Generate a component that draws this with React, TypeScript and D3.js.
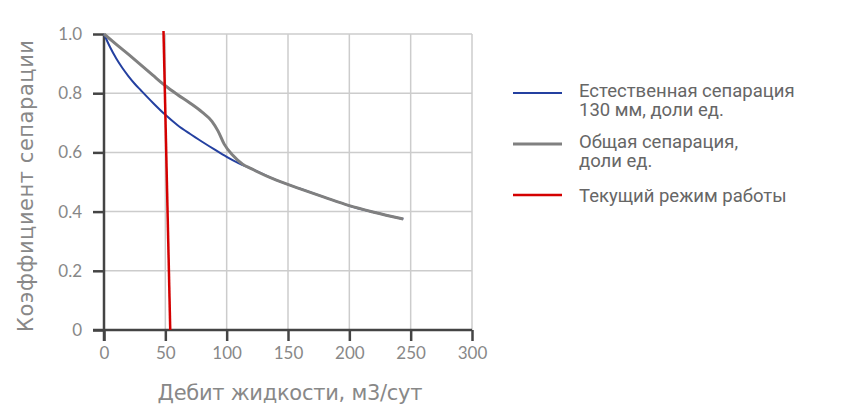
import React, { useEffect, useRef } from "react";
import * as d3 from "d3";

// Естественная сепарация 130 мм
const naturalX = [0, 5, 10, 15, 20, 25, 30, 40, 50, 60, 70, 80, 90, 100, 110, 120, 140, 160, 180, 200, 220, 244];
const naturalY = [1.0, 0.955, 0.917, 0.885, 0.857, 0.832, 0.81, 0.767, 0.727, 0.692, 0.663, 0.636, 0.61, 0.585, 0.563, 0.545, 0.507, 0.477, 0.448, 0.42, 0.398, 0.375];

// Общая сепарация
const totalX = [0, 10, 20, 30, 40, 50, 60, 70, 80, 88, 93, 98, 105, 113, 120, 140, 160, 180, 200, 220, 244];
const totalY = [1.0, 0.965, 0.931, 0.896, 0.86, 0.825, 0.795, 0.767, 0.736, 0.705, 0.672, 0.628, 0.59, 0.56, 0.545, 0.507, 0.477, 0.448, 0.42, 0.398, 0.375];

// Текущий режим работы
const modeX = [48.5, 54];
const modeY = [1.01, 0];

const xTicks = [0, 50, 100, 150, 200, 250, 300];
const yTicks = [0, 0.2, 0.4, 0.6, 0.8, 1.0];

const legendLabels = [
  ["Естественная сепарация", "130 мм, доли ед."],
  ["Общая сепарация,", "доли ед."],
  ["Текущий режим работы"],
];
const seriesColors = ["#2440a0", "#808080", "#d40000"];
const seriesWidths = [2, 3, 2.5];

type Pt = [number, number];
const zip = (xs: number[], ys: number[]): Pt[] => xs.map((x, i) => [x, ys[i]]);

export default function App() {
  const ref = useRef<SVGSVGElement | null>(null);
  const width = 841;
  const height = 413;
  const marginLeft = 104;
  const marginRight = 369;
  const marginTop = 34;
  const marginBottom = 83;

  useEffect(() => {
    const x = d3.scaleLinear().domain([0, 300]).range([marginLeft, width - marginRight]);
    const y = d3.scaleLinear().domain([0, 1]).range([height - marginBottom, marginTop]);

    const svg = d3.select(ref.current);
    svg.selectAll("*").remove();
    svg.attr("width", width).attr("height", height).attr("viewBox", [0, 0, width, height]);

    const axisFont = "Lato, 'Noto Sans', sans-serif";
    const titleFont = "'DejaVu Sans', sans-serif";

    // grid
    svg
      .append("g")
      .attr("stroke", "#cccccc")
      .attr("stroke-width", 1.5)
      .call((g) =>
        g
          .selectAll("line.v")
          .data(xTicks.slice(1))
          .join("line")
          .attr("x1", (d) => x(d))
          .attr("x2", (d) => x(d))
          .attr("y1", y(0))
          .attr("y2", y(1))
      )
      .call((g) =>
        g
          .selectAll("line.h")
          .data(yTicks.slice(1))
          .join("line")
          .attr("x1", x(0))
          .attr("x2", x(300))
          .attr("y1", (d) => y(d))
          .attr("y2", (d) => y(d))
      );

    // x axis
    const gx = svg
      .append("g")
      .attr("transform", `translate(0,${y(0)})`)
      .call(d3.axisBottom(x).tickValues(xTicks).tickSize(11).tickSizeOuter(0).tickPadding(6));
    gx.select(".domain").attr("stroke", "#444").attr("stroke-width", 2.5).attr("d", `M${x(0) - 11},0H${x(300)}`);
    gx.selectAll(".tick line").attr("stroke", "#444").attr("stroke-width", 2.5);
    gx.selectAll(".tick text")
      .attr("fill", "#888")
      .attr("font-size", 17)
      .attr("font-family", axisFont);

    // y axis
    const gy = svg
      .append("g")
      .attr("transform", `translate(${x(0)},0)`)
      .call(
        d3
          .axisLeft(y)
          .tickValues(yTicks)
          .tickSize(11)
          .tickSizeOuter(0)
          .tickPadding(11)
          .tickFormat((d) => (d === 0 ? "0" : d3.format(".1f")(d as number)))
      );
    gy.select(".domain").attr("stroke", "#444").attr("stroke-width", 2.5).attr("d", `M0,${y(1)}V${y(0) + 11}`);
    gy.selectAll(".tick line").attr("stroke", "#444").attr("stroke-width", 2.5);
    gy.selectAll(".tick text")
      .attr("fill", "#888")
      .attr("font-size", 17)
      .attr("font-family", axisFont);

    // axis titles
    svg
      .append("text")
      .attr("x", 290)
      .attr("y", 400)
      .attr("text-anchor", "middle")
      .attr("fill", "#888")
      .attr("font-size", 21)
      .attr("font-family", titleFont)
      .attr("textLength", 265)
      .attr("lengthAdjust", "spacing")
      .text("Дебит жидкости, м3/сут");

    svg
      .append("text")
      .attr("transform", `translate(33,186) rotate(-90)`)
      .attr("text-anchor", "middle")
      .attr("fill", "#888")
      .attr("font-size", 21)
      .attr("font-family", titleFont)
      .attr("textLength", 292)
      .attr("lengthAdjust", "spacing")
      .text("Коэффициент сепарации");

    // lines
    const line = d3
      .line<Pt>()
      .x((d) => x(d[0]))
      .y((d) => y(d[1]))
      .curve(d3.curveMonotoneX);

    const series: Pt[][] = [zip(naturalX, naturalY), zip(totalX, totalY)];
    [0, 1].forEach((i) => {
      svg
        .append("path")
        .attr("fill", "none")
        .attr("stroke", seriesColors[i])
        .attr("stroke-width", seriesWidths[i])
        .attr("stroke-linejoin", "round")
        .attr("d", line(series[i]));
    });

    svg
      .append("path")
      .attr("fill", "none")
      .attr("stroke", seriesColors[2])
      .attr("stroke-width", seriesWidths[2])
      .attr("d", d3.line<Pt>().x((d) => x(d[0])).y((d) => y(d[1]))(zip(modeX, modeY)));

    // legend
    const legendY = [93, 144, 195];
    const lg = svg.append("g").attr("font-family", "Roboto, sans-serif").attr("font-size", 18.5).attr("fill", "#666");
    legendLabels.forEach((lines, i) => {
      lg.append("line")
        .attr("x1", 513)
        .attr("x2", 562)
        .attr("y1", legendY[i])
        .attr("y2", legendY[i])
        .attr("stroke", seriesColors[i])
        .attr("stroke-width", seriesWidths[i]);
      const t = lg.append("text").attr("x", 579);
      const first = lines.length > 1 ? legendY[i] + 4 : legendY[i] + 6.5;
      lines.forEach((s, k) => {
        t.append("tspan")
          .attr("x", 579)
          .attr("y", first + k * 19)
          .text(s);
      });
    });
  }, []);

  return (
    <div style={{ position: "absolute", left: 0, top: 0 }}>
      <svg ref={ref} style={{ display: "block" }}></svg>
    </div>
  );
}
